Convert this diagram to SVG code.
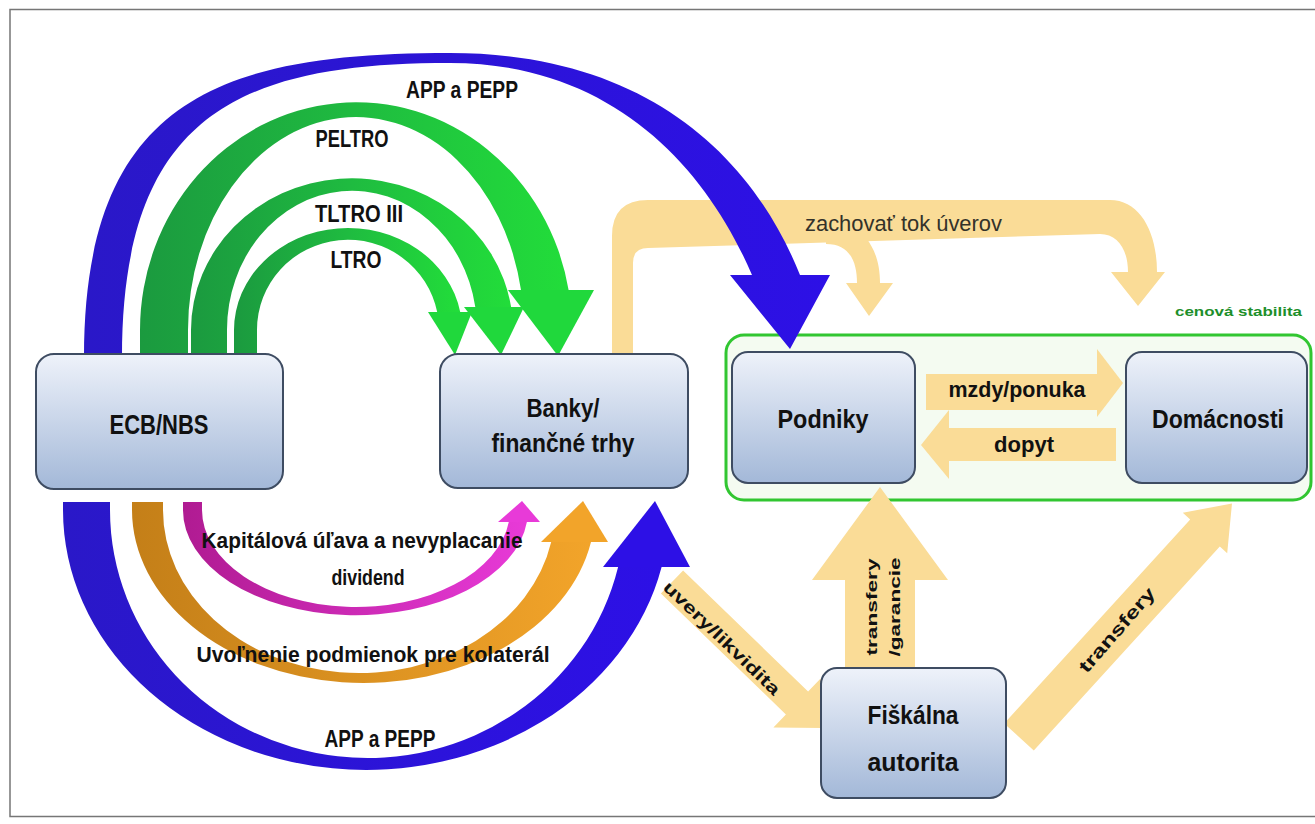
<svg xmlns="http://www.w3.org/2000/svg" width="1315" height="824" viewBox="0 0 1315 824">
<defs>
<linearGradient id="box" x1="0" y1="0" x2="0" y2="1"><stop offset="0" stop-color="#eef2fa"/><stop offset="1" stop-color="#a3b8d8"/></linearGradient>
<linearGradient id="grn" x1="0" y1="0" x2="1" y2="0"><stop offset="0" stop-color="#1b9a3f"/><stop offset="0.5" stop-color="#1fbb40"/><stop offset="1" stop-color="#22dd3a"/></linearGradient>
<linearGradient id="blu" x1="0" y1="0" x2="1" y2="0"><stop offset="0" stop-color="#2a18c8"/><stop offset="1" stop-color="#2d10e6"/></linearGradient>
<linearGradient id="org" x1="0" y1="0" x2="1" y2="0"><stop offset="0" stop-color="#c47f18"/><stop offset="1" stop-color="#f2a42a"/></linearGradient>
<linearGradient id="mag" x1="0" y1="0" x2="1" y2="0"><stop offset="0" stop-color="#b01b92"/><stop offset="1" stop-color="#e83ad8"/></linearGradient>
</defs>
<style>
.box{fill:url(#box);stroke:#3e4c62;stroke-width:2}
.nt{font-family:"Liberation Sans Narrow","Liberation Sans",Arial,sans-serif;font-weight:bold;fill:#111;text-anchor:middle}
.lb{font-family:"Liberation Sans Narrow","Liberation Sans",Arial,sans-serif;font-weight:bold;fill:#111;text-anchor:middle}
.yl{fill:#fadc97}
.ga{fill:#20d83c}
</style>
<rect x="10" y="9.5" width="1310" height="807" fill="#fff" stroke="#767676" stroke-width="1.5"/>

<g id="cenova-stabilita">
<rect x="726" y="335" width="585" height="165" rx="18" fill="#f4fbf1" stroke="#31c631" stroke-width="3"/>
<text x="1238.5" y="316" font-family="Liberation Sans Narrow, Liberation Sans, Arial, sans-serif" font-weight="bold" font-size="13" fill="#1d8f2a" text-anchor="middle" textLength="127" lengthAdjust="spacingAndGlyphs">cenová stabilita</text>
</g>

<g id="connectors">
<!-- yellow flows -->
<path class="yl" d="M 612 354 L 612 236 Q 612 200 648 200 L 1110 200 C 1140 200, 1157 232, 1157 272 L 1165 272 L 1138 306 L 1111 272 L 1128 272 C 1128 250, 1118 234, 1100 234 L 648 248 Q 633 248 633 263 L 633 354 Z"/>
<path class="yl" d="M 826 240 L 866 238 C 874 248, 880 262, 880 283 L 893 283 L 869 316 L 846 283 L 857 283 C 857 262, 850 244, 826 244 Z"/>
<rect class="yl" x="926" y="374" width="173" height="36"/>
<polygon class="yl" points="1097,349 1123,383 1097,417"/>
<rect class="yl" x="947" y="428" width="169" height="33"/>
<polygon class="yl" points="949,410 921,445 949,479"/>
<polygon class="yl" points="845,668 845,580 812,580 880,487 948,580 915,580 915,668"/>
<polygon class="yl" points="660.9,593.5 683.1,570.5 808.1,691.5 820.6,678.6 823,728 773.4,727.4 785.9,714.5"/>
<polygon class="yl" points="1004.2,723.5 1190.2,519.5 1182.8,512.8 1232,503.4 1227.2,553.2 1219.8,546.5 1033.8,750.5"/>

<!-- top arcs -->
<path fill="url(#blu)" d="M 84 357 C 84 100, 220 53, 450 53 C 640 53, 750 150, 800 275 L 830 275 L 790 349 L 730 275 L 752 275 C 705 165, 610 63, 450 63 C 240 63, 122 115, 122 357 Z"/>
<path fill="url(#grn)" d="M 140 357 L 140 330 A 216 228 0 0 1 568.6 290 L 521 290 A 168 213 0 0 0 188 330 L 188 357 Z"/>
<polygon class="ga" points="508,290 594,290 558,356"/>
<path fill="url(#grn)" d="M 191 357 L 191 330 A 161 152 0 0 1 511.1 307 L 475.3 307 A 125 139 0 0 0 227 330 L 227 357 Z"/>
<polygon class="ga" points="464,307 524,307 501,355"/>
<path fill="url(#grn)" d="M 234 357 L 234 330 A 114 102 0 0 1 460.2 312 L 437.2 312 A 91 90 0 0 0 257 330 L 257 357 Z"/>
<polygon class="ga" points="428,312 472,312 455,355"/>

<!-- bottom arcs -->
<path fill="url(#blu)" d="M 63 502 L 63 510 A 303 260 0 0 0 661.6 567 L 618.1 567 A 257.5 248 0 0 1 110 510 L 110 502 Z"/>
<polygon fill="#2d10e6" points="603,567 690,567 655,501"/>
<path fill="url(#org)" d="M 132 502 L 132 510 A 231.5 173 0 0 0 591 542 L 551.2 542 A 196 163 0 0 1 163 510 L 163 502 Z"/>
<polygon fill="#f2a42a" points="541,542 608,542 583,501"/>
<path fill="url(#mag)" d="M 183 502 L 183 510 A 172.5 105 0 0 0 526.9 522 L 508.8 522 A 154 97 0 0 1 202 510 L 202 502 Z"/>
<polygon fill="#e83ad8" points="498,522 540,522 522,501"/>

<!-- labels -->
<text class="lb" x="462" y="98" font-size="24" textLength="112" lengthAdjust="spacingAndGlyphs">APP a PEPP</text>
<text class="lb" x="352" y="147" font-size="24" textLength="73" lengthAdjust="spacingAndGlyphs">PELTRO</text>
<text class="lb" x="359" y="222" font-size="24" textLength="88" lengthAdjust="spacingAndGlyphs">TLTRO III</text>
<text class="lb" x="356" y="268" font-size="24" textLength="51" lengthAdjust="spacingAndGlyphs">LTRO</text>
<text class="lb" x="362" y="548" font-size="22" textLength="321" lengthAdjust="spacingAndGlyphs">Kapitálová úľava a nevyplacanie</text>
<text class="lb" x="368" y="585" font-size="22" textLength="73" lengthAdjust="spacingAndGlyphs">dividend</text>
<text class="lb" x="373" y="662" font-size="22" textLength="353" lengthAdjust="spacingAndGlyphs">Uvoľnenie podmienok pre kolaterál</text>
<text class="lb" x="380" y="747" font-size="24" textLength="111" lengthAdjust="spacingAndGlyphs">APP a PEPP</text>
<text x="903.5" y="231" font-family="Liberation Sans, Arial, sans-serif" font-size="22" fill="#33322a" text-anchor="middle" textLength="197" lengthAdjust="spacingAndGlyphs">zachovať tok úverov</text>
<text class="lb" x="1017" y="397" font-size="22" textLength="137" lengthAdjust="spacingAndGlyphs">mzdy/ponuka</text>
<text class="lb" x="1024" y="452" font-size="22" textLength="60" lengthAdjust="spacingAndGlyphs">dopyt</text>
<text class="lb" transform="translate(722,638) rotate(44)" x="0" y="6" font-size="17" textLength="155" lengthAdjust="spacingAndGlyphs">uvery/likvidita</text>
<text class="lb" transform="translate(1117,630) rotate(-49)" x="0" y="6" font-size="18" textLength="106" lengthAdjust="spacingAndGlyphs">transfery</text>
<text class="lb" transform="translate(877,607) rotate(-90)" x="0" y="0" font-size="15" textLength="97" lengthAdjust="spacingAndGlyphs">transfery</text>
<text class="lb" transform="translate(900,607) rotate(-90)" x="0" y="0" font-size="15" textLength="99" lengthAdjust="spacingAndGlyphs">/garancie</text>
</g>

<g id="ecb">
<rect class="box" x="36" y="354" width="247" height="135" rx="18"/>
<text class="nt" x="159" y="434" font-size="27" textLength="99" lengthAdjust="spacingAndGlyphs">ECB/NBS</text>
</g>
<g id="banky">
<rect class="box" x="440" y="354" width="248" height="134" rx="18"/>
<text class="nt" x="563" y="417" font-size="26" textLength="73" lengthAdjust="spacingAndGlyphs">Banky/</text>
<text class="nt" x="563" y="452" font-size="26" textLength="143" lengthAdjust="spacingAndGlyphs">finančné trhy</text>
</g>
<g id="podniky">
<rect class="box" x="732" y="352" width="183" height="131" rx="16"/>
<text class="nt" x="823" y="428" font-size="26" textLength="91" lengthAdjust="spacingAndGlyphs">Podniky</text>
</g>
<g id="domacnosti">
<rect class="box" x="1126" y="352" width="181" height="131" rx="16"/>
<text class="nt" x="1218" y="428" font-size="26" textLength="132" lengthAdjust="spacingAndGlyphs">Domácnosti</text>
</g>
<g id="fiskalna">
<rect class="box" x="821" y="668" width="185" height="130" rx="16"/>
<text class="nt" x="913" y="724" font-size="25" textLength="91" lengthAdjust="spacingAndGlyphs">Fiškálna</text>
<text class="nt" x="913" y="771" font-size="25" textLength="91" lengthAdjust="spacingAndGlyphs">autorita</text>
</g>
</svg>
